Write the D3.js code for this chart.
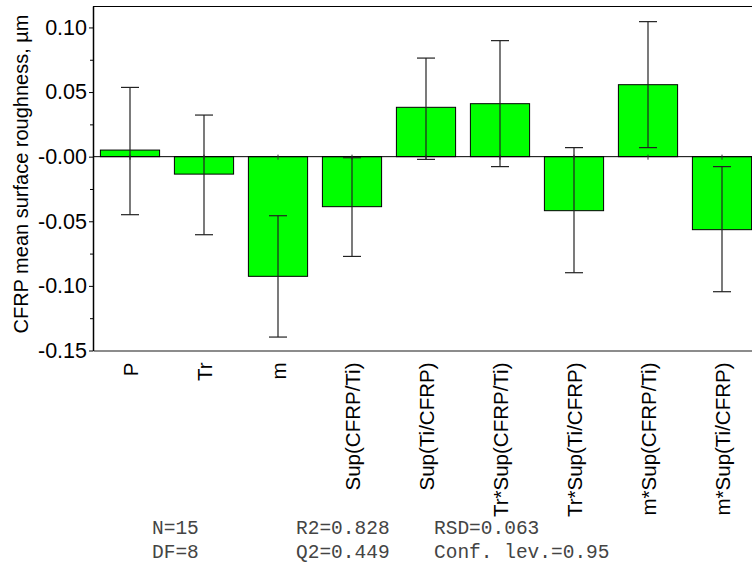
<!DOCTYPE html>
<html>
<head>
<meta charset="utf-8">
<script src="https://cdn.jsdelivr.net/npm/d3@7"></script>
<style>
  html, body { margin: 0; padding: 0; background: #fff; }
  svg { display: block; font-family: "Liberation Sans", Arial, sans-serif; }
</style>
</head>
<body>
<div id="chart"></div>
<script>
// model terms and their coefficients with confidence intervals
const terms = ["P", "Tr", "m", "Sup(CFRP/Ti)", "Sup(Ti/CFRP)", "Tr*Sup(CFRP/Ti)",
  "Tr*Sup(Ti/CFRP)", "m*Sup(CFRP/Ti)", "m*Sup(Ti/CFRP)"];
const coeffs = [0.0051, -0.0135, -0.0926, -0.0387, 0.0382, 0.041, -0.0418, 0.0557, -0.0565];
const ciLow  = [-0.0449, -0.0604, -0.1396, -0.0772, -0.0021, -0.0077, -0.0898, 0.007, -0.1045];
const ciHigh = [0.0536, 0.0322, -0.0457, -0.0008, 0.0763, 0.0898, 0.007, 0.1045, -0.0077];

const yTicks = [0.10, 0.05, 0, -0.05, -0.10, -0.15];
const yTickLabels = ["0.10", "0.05", "-0.00", "-0.05", "-0.10", "-0.15"];
const yMinorTicks = [0.075, 0.025, -0.025, -0.075, -0.125];
const yTitle = "CFRP mean surface roughness, \u00b5m";

const statsCol1 = ["N=15", "DF=8"];
const statsCol2 = ["R2=0.828", "Q2=0.449"];
const statsCol3 = ["RSD=0.063", "Conf. lev.=0.95"];

const W = 752, H = 572;
const plotLeft = 93, plotTop = 6, plotBottom = 350.5;

const svg = d3.select("#chart").append("svg")
  .attr("width", W)
  .attr("height", H);

const x = d3.scaleBand()
  .domain(terms)
  .range([plotLeft, 759])
  .paddingInner(0.2)
  .paddingOuter(0.1);

const y = d3.scaleLinear()
  .domain([-0.15, 0.1166])
  .range([plotBottom, plotTop]);

// top border
svg.append("line")
  .attr("x1", plotLeft).attr("x2", W)
  .attr("y1", plotTop + 0.5).attr("y2", plotTop + 0.5)
  .attr("stroke", "#000");

// bottom axis with rotated term labels
const xAxis = svg.append("g")
  .attr("transform", `translate(0,${plotBottom})`)
  .call(d3.axisBottom(x).tickSize(0).tickSizeOuter(0));

xAxis.select(".domain").attr("stroke", "#666").attr("stroke-width", 1.5);
xAxis.selectAll("text")
  .attr("transform", "rotate(-90)")
  .attr("x", -12)
  .attr("y", 8)
  .attr("dy", 0)
  .style("text-anchor", "end")
  .style("font-size", "20.5px")
  .style("font-family", "Liberation Sans, Arial, sans-serif")
  .attr("fill", "#000");

// bars
svg.selectAll(".bar")
  .data(terms)
  .enter()
  .append("rect")
  .attr("class", "bar")
  .attr("x", d => x(d))
  .attr("width", x.bandwidth())
  .attr("y", (d, i) => y(Math.max(0, coeffs[i])))
  .attr("height", (d, i) => Math.abs(y(coeffs[i]) - y(0)))
  .attr("fill", "#00ff00")
  .attr("stroke", "#000")
  .attr("stroke-width", 1);

// zero line
svg.append("line")
  .attr("x1", plotLeft).attr("x2", W)
  .attr("y1", y(0)).attr("y2", y(0))
  .attr("stroke", "#000");

// small ticks on zero line
svg.selectAll(".ztick")
  .data(terms)
  .enter()
  .append("line")
  .attr("x1", d => x(d) + x.bandwidth() / 2)
  .attr("x2", d => x(d) + x.bandwidth() / 2)
  .attr("y1", y(0) - 2)
  .attr("y2", y(0) + 3)
  .attr("stroke", "#333");

// error bars
const capW = 9;
const err = svg.append("g").attr("stroke", "#222").attr("stroke-width", 1.2);
terms.forEach((t, i) => {
  const cx = x(t) + x.bandwidth() / 2;
  err.append("line")
    .attr("x1", cx).attr("x2", cx)
    .attr("y1", y(ciHigh[i])).attr("y2", y(ciLow[i]));
  err.append("line")
    .attr("x1", cx - capW).attr("x2", cx + capW)
    .attr("y1", y(ciHigh[i])).attr("y2", y(ciHigh[i]));
  err.append("line")
    .attr("x1", cx - capW).attr("x2", cx + capW)
    .attr("y1", y(ciLow[i])).attr("y2", y(ciLow[i]));
});

// y axis
const yAxis = svg.append("g")
  .attr("transform", `translate(${plotLeft},0)`)
  .call(d3.axisLeft(y).tickValues(yTicks)
    .tickFormat((d, i) => yTickLabels[i])
    .tickSize(4).tickPadding(2).tickSizeOuter(0));

yAxis.select(".domain").attr("stroke", "#000").attr("stroke-width", 1.5);
yAxis.selectAll("line").attr("stroke", "#000");
yAxis.selectAll("text")
  .style("font-size", "21.5px")
  .style("font-family", "Liberation Sans, Arial, sans-serif")
  .attr("fill", "#000");

const yMinor = svg.append("g")
  .attr("transform", `translate(${plotLeft},0)`)
  .call(d3.axisLeft(y).tickValues(yMinorTicks).tickFormat("").tickSize(3).tickSizeOuter(0));
yMinor.select(".domain").remove();
yMinor.selectAll("line").attr("stroke", "#000");

// y title
svg.append("text")
  .attr("transform", "rotate(-90)")
  .attr("x", -174)
  .attr("y", 27.5)
  .style("text-anchor", "middle")
  .style("font-size", "20px")
  .attr("fill", "#000")
  .text(yTitle);

// model statistics
const stats = svg.append("g")
  .style("font-family", "Liberation Mono, Courier New, monospace")
  .style("font-size", "19.5px")
  .attr("fill", "#444");
[[statsCol1, 152], [statsCol2, 296], [statsCol3, 434]].forEach(([col, cx]) => {
  col.forEach((s, j) => {
    stats.append("text")
      .attr("x", cx)
      .attr("y", 534 + j * 24)
      .text(s);
  });
});
</script>
</body>
</html>
